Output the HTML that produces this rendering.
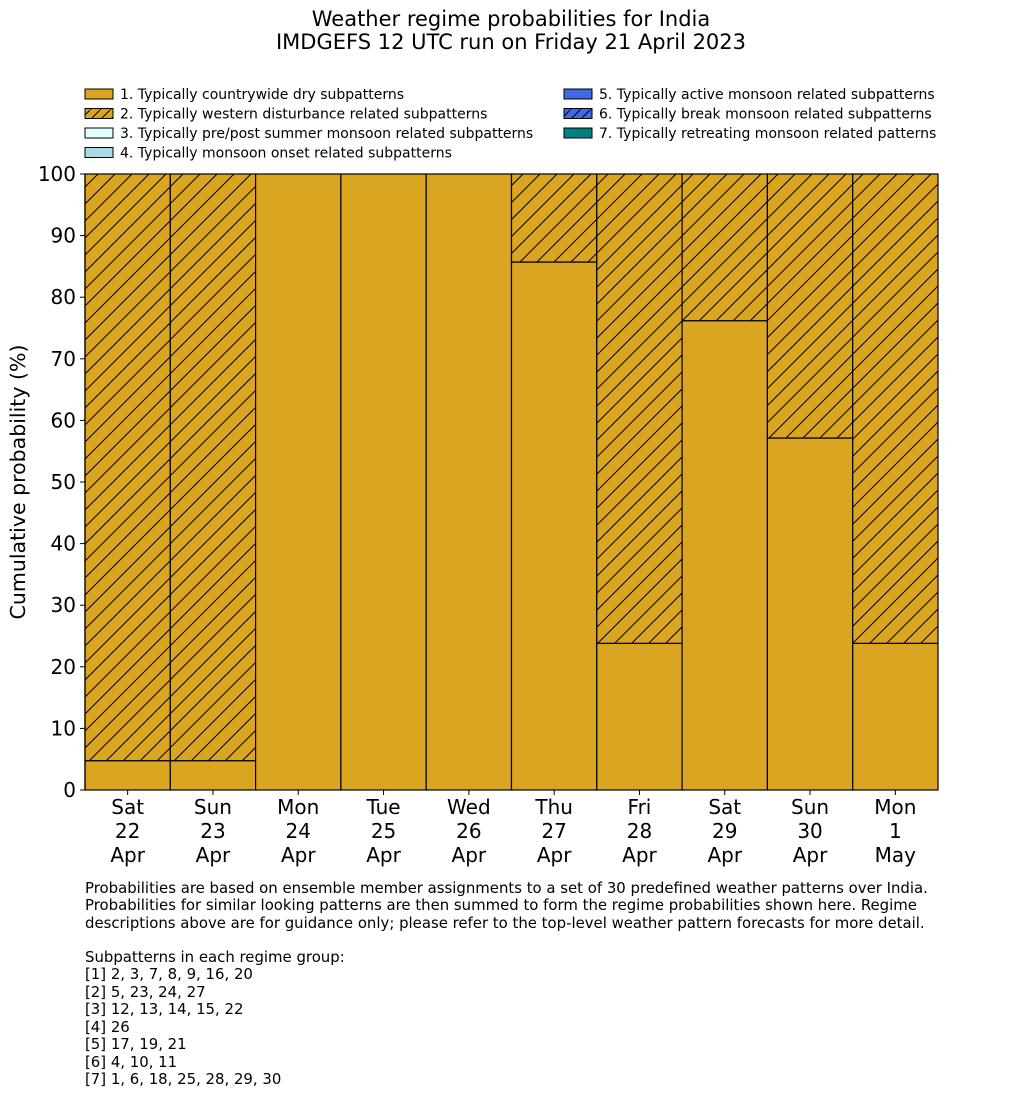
<!DOCTYPE html>
<html><head><meta charset="utf-8">
<style>
body{margin:0;background:#fff;font-family:"DejaVu Sans","Liberation Sans",sans-serif;}
#wrap{position:relative;width:1033px;height:1114px;}
</style></head>
<body><div id="wrap">
<svg id="svg" width="1033" height="1114" xmlns="http://www.w3.org/2000/svg" font-family="DejaVu Sans, Liberation Sans, sans-serif">
<defs>
<pattern id="hatch" patternUnits="userSpaceOnUse" width="17" height="17">
<rect width="17" height="17" fill="#daa520"/>
<path d="M0,17 L17,0 M-4,4 L4,-4 M13,21 L21,13" stroke="#000" stroke-width="1"/>
</pattern>
<pattern id="hatchL" patternUnits="userSpaceOnUse" width="10" height="10">
<rect width="10" height="10" fill="#daa520"/>
<path d="M0,10 L10,0" stroke="#000" stroke-width="1"/>
</pattern>
<pattern id="hatchB" patternUnits="userSpaceOnUse" width="10" height="10">
<rect width="10" height="10" fill="#4169e1"/>
<path d="M0,10 L10,0" stroke="#000" stroke-width="1"/>
</pattern>
</defs>
<text x="511" y="26" font-size="21" text-anchor="middle">Weather regime probabilities for India</text>
<text x="511" y="49" font-size="21" text-anchor="middle">IMDGEFS 12 UTC run on Friday 21 April 2023</text>
<g id="legend" font-size="14"></g>
<g id="plot"></g>
<text transform="translate(25,482) rotate(-90)" font-size="20.5" text-anchor="middle">Cumulative probability (%)</text>
<g font-size="14.9">
<text x="85" y="893">Probabilities are based on ensemble member assignments to a set of 30 predefined weather patterns over India.</text>
<text x="85" y="910">Probabilities for similar looking patterns are then summed to form the regime probabilities shown here. Regime</text>
<text x="85" y="928">descriptions above are for guidance only; please refer to the top-level weather pattern forecasts for more detail.</text>
<text x="85" y="962">Subpatterns in each regime group:</text>
<text x="85" y="979">[1] 2, 3, 7, 8, 9, 16, 20</text>
<text x="85" y="997">[2] 5, 23, 24, 27</text>
<text x="85" y="1014">[3] 12, 13, 14, 15, 22</text>
<text x="85" y="1032">[4] 26</text>
<text x="85" y="1049">[5] 17, 19, 21</text>
<text x="85" y="1067">[6] 4, 10, 11</text>
<text x="85" y="1084">[7] 1, 6, 18, 25, 28, 29, 30</text>
</g>
</svg></div>
<script>
const categories=[["Sat","22","Apr"],["Sun","23","Apr"],["Mon","24","Apr"],["Tue","25","Apr"],["Wed","26","Apr"],["Thu","27","Apr"],["Fri","28","Apr"],["Sat","29","Apr"],["Sun","30","Apr"],["Mon","1","May"]];
const dryValues=[4.76,4.76,100,100,100,85.71,23.81,76.19,57.14,23.81];
const wdValues=[95.24,95.24,0,0,0,14.29,76.19,23.81,42.86,76.19];
const yTicks=[0,10,20,30,40,50,60,70,80,90,100];
const legendLabels=["1. Typically countrywide dry subpatterns","2. Typically western disturbance related subpatterns","3. Typically pre/post summer monsoon related subpatterns","4. Typically monsoon onset related subpatterns","5. Typically active monsoon related subpatterns","6. Typically break monsoon related subpatterns","7. Typically retreating monsoon related patterns"];
const legendFills=["#daa520","url(#hatchL)","#e0ffff","#add8e6","#4169e1","url(#hatchB)","#008080"];

const NS="http://www.w3.org/2000/svg";
const X0=85,X1=938,Y0=790,Y1=174;
const bw=(X1-X0)/categories.length;
const y=v=>Y0-(v/100)*(Y0-Y1);
const x=i=>X0+i*bw;
function mk(tag,attrs,parent){const e=document.createElementNS(NS,tag);for(const k in attrs)e.setAttribute(k,attrs[k]);parent.appendChild(e);return e;}
const plot=document.getElementById('plot');
categories.forEach((c,i)=>{
  const r1=mk('rect',{x:x(i),y:y(dryValues[i]),width:bw,height:y(0)-y(dryValues[i]),fill:'#daa520',stroke:'#000','stroke-width':1.2},plot);
  
  
  if(wdValues[i]>0){
    const top=dryValues[i]+wdValues[i];
    const r2=mk('rect',{x:x(i),y:y(top),width:bw,height:y(dryValues[i])-y(top),fill:'url(#hatch)',stroke:'#000','stroke-width':1.2},plot);
    
    
  }
  c.forEach((t,j)=>{
    const tx=mk('text',{x:x(i)+bw/2,y:814+j*24,'font-size':20,'text-anchor':'middle'},plot);
    tx.textContent=t;
    
    
  });
  mk('line',{x1:x(i)+bw/2,x2:x(i)+bw/2,y1:Y0,y2:Y0+5,stroke:'#000'},plot);
});
mk('line',{x1:X0,x2:X0,y1:Y1,y2:Y0,stroke:'#000','stroke-width':1.2},plot);
yTicks.forEach(v=>{
  mk('line',{x1:X0-5,x2:X0,y1:y(v),y2:y(v),stroke:'#000'},plot);
  const t=mk('text',{x:X0-9,y:y(v)+7,'font-size':20,'text-anchor':'end'},plot);
  t.textContent=v;
  
  
});
const lg=document.getElementById('legend');
legendLabels.forEach((l,i)=>{
  const col=i<4?0:1, row=i<4?i:i-4;
  const lx=col?564:85, ly=89+row*19.5;
  const r=mk('rect',{x:lx,y:ly,width:28,height:10,fill:legendFills[i],stroke:'#000','stroke-width':1},lg);
  
  
  const t=mk('text',{x:lx+35,y:ly+10},lg);
  t.textContent=l;
  
  
});
</script>
</body></html>
